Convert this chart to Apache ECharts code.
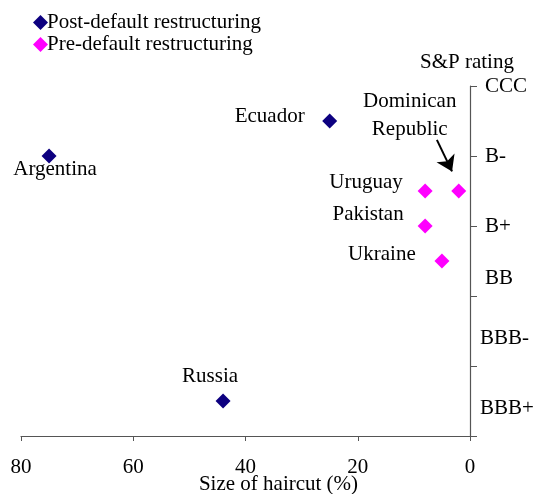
<!DOCTYPE html>
<html>
<head>
<meta charset="utf-8">
<script src="https://cdn.jsdelivr.net/npm/echarts@6/dist/echarts.min.js"></script>
<style>
  html, body { margin: 0; padding: 0; background: #fff; }
  #chart { width: 536px; height: 494px; }
</style>
</head>
<body>
<div id="chart"></div>
<script>
// haircut (%) and rating position (0 = CCC ... 5 = bottom)
var postNames = ['Argentina', 'Ecuador', 'Russia'];
var postHaircut = [75, 25, 44];
var postRating = [1, 0.5, 4.5];

var preNames = ['Dominican Republic', 'Uruguay', 'Pakistan', 'Ukraine'];
var preHaircut = [2, 8, 8, 5];
var preRating = [1.5, 1.5, 2, 2.5];

var ratingLabels = ['CCC', 'B-', 'B+', 'BB', 'BBB-', 'BBB+'];
var ratingPos = [0, 1, 2, 2.75, 3.6, 4.6];

var font = 'Liberation Serif';

// where each country's name sits relative to its marker
var labelStyle = {
  'Argentina': { offset: [6, 13], text: 'Argentina' },
  'Ecuador': { offset: [-60, -5], text: 'Ecuador' },
  'Russia': { offset: [-13, -25], text: 'Russia' },
  'Dominican Republic': { offset: [-49, -76], text: 'Dominican\nRepublic' },
  'Uruguay': { offset: [-59, -9], text: 'Uruguay' },
  'Pakistan': { offset: [-57, -12], text: 'Pakistan' },
  'Ukraine': { offset: [-60, -7], text: 'Ukraine' }
};

function makePoints(names, xs, ys) {
  return names.map(function (n, i) {
    var s = labelStyle[n];
    return {
      name: n,
      value: [xs[i], ys[i]],
      label: {
        show: true,
        position: 'inside',
        offset: s.offset,
        formatter: s.text,
        color: '#000',
        fontFamily: font,
        fontSize: 21,
        lineHeight: 28,
        align: 'center',
        verticalAlign: 'middle'
      }
    };
  });
}

var chart = echarts.init(document.getElementById('chart'));
chart.setOption({
  animation: false,
  textStyle: { fontFamily: font },
  legend: {
    orient: 'vertical',
    left: 28,
    top: 7,
    itemGap: 1,
    itemWidth: 15,
    itemHeight: 15,
    textStyle: { fontFamily: font, fontSize: 21, color: '#000', padding: [0, 0, 0, -6] },
    data: [
      { name: 'Post-default restructuring', icon: 'diamond' },
      { name: 'Pre-default restructuring', icon: 'diamond' }
    ]
  },
  graphic: [{
    type: 'text',
    left: 420,
    top: 52,
    style: { text: 'S&P rating', font: '21px "Liberation Serif"', fill: '#000' }
  }],
  grid: { left: 21, right: 66, top: 86, bottom: 58, outerBoundsMode: 'none' },
  xAxis: {
    type: 'value',
    inverse: true,
    position: 'bottom',
    min: 0,
    max: 80,
    interval: 20,
    name: 'Size of haircut (%)',
    nameLocation: 'middle',
    nameGap: 38,
    nameMoveOverlap: false,
    nameTextStyle: { fontFamily: font, fontSize: 21, color: '#000', padding: [0, 0, 0, 66] },
    splitLine: { show: false },
    axisLine: { onZero: false, lineStyle: { color: '#555', width: 1.2 } },
    axisTick: { show: true, length: 5, lineStyle: { color: '#555' } },
    axisLabel: { fontFamily: font, fontSize: 21, color: '#000', margin: 21 }
  },
  yAxis: {
    type: 'value',
    inverse: true,
    position: 'right',
    min: 0,
    max: 5,
    interval: 1,
    splitLine: { show: false },
    axisLine: { show: true, onZero: false, lineStyle: { color: '#555', width: 1.2 } },
    axisTick: { show: true, length: 7, lineStyle: { color: '#555' } },
    axisLabel: {
      customValues: ratingPos,
      fontFamily: font,
      fontSize: 21,
      color: '#000',
      margin: 10,
      formatter: function (v) {
        var i = ratingPos.indexOf(v);
        if (i < 0) return '';
        return i < 4 ? '{s|' + ratingLabels[i] + '}' : ratingLabels[i];
      },
      rich: {
        s: { fontFamily: font, fontSize: 21, color: '#000', padding: [0, 0, 0, 5] }
      }
    }
  },
  series: [
    {
      name: 'Post-default restructuring',
      type: 'scatter',
      symbol: 'diamond',
      symbolSize: 15,
      itemStyle: { color: '#0d0080', opacity: 1 },
      data: makePoints(postNames, postHaircut, postRating)
    },
    {
      name: 'Pre-default restructuring',
      type: 'scatter',
      symbol: 'diamond',
      symbolSize: 15,
      itemStyle: { color: '#ff00ff', opacity: 1 },
      data: makePoints(preNames, preHaircut, preRating),
      markLine: {
        silent: true,
        symbol: ['none', 'arrow'],
        symbolSize: 15,
        lineStyle: { color: '#000', width: 2, type: 'solid' },
        label: { show: false },
        data: [[{ coord: [5.9, 0.77] }, { coord: [3.2, 1.22] }]]
      }
    }
  ]
});
</script>
</body>
</html>
